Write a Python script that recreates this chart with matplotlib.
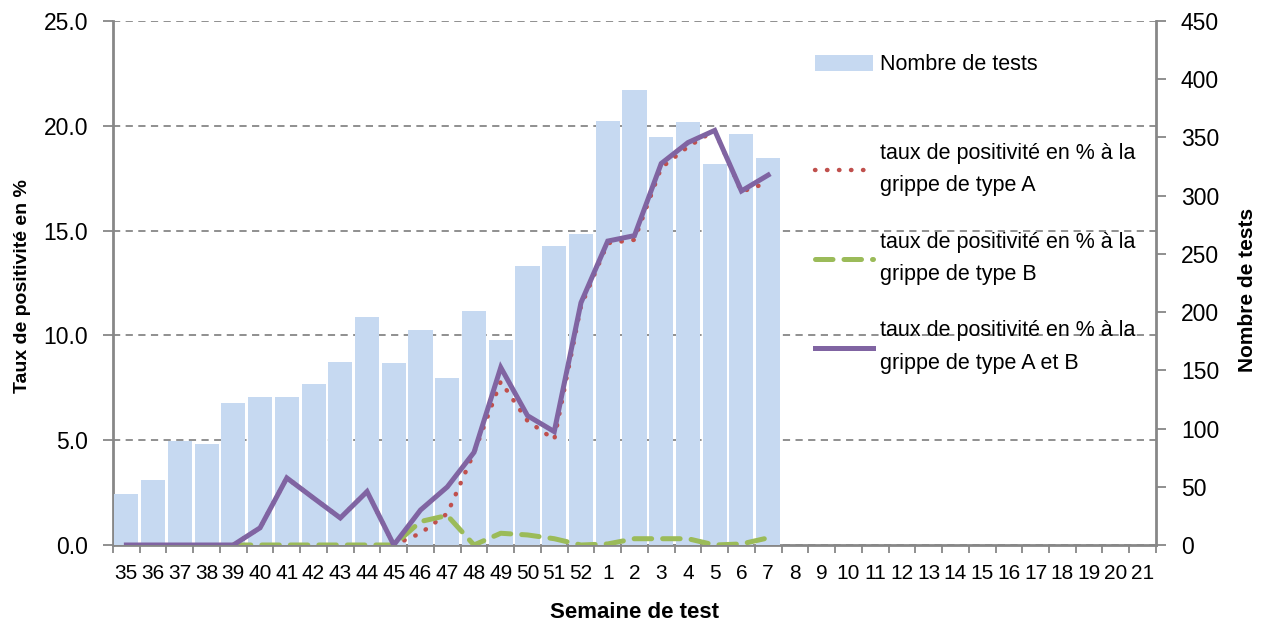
import matplotlib
matplotlib.use("Agg")
import matplotlib.pyplot as plt
import numpy as np
from matplotlib.patches import Patch
from matplotlib.lines import Line2D

plt.rcParams['font.family'] = ['Liberation Sans', 'DejaVu Sans']

weeks = [str(w) for w in list(range(35, 53)) + list(range(1, 22))]
tests = [44, 56, 89, 87, 122, 127, 127, 138, 157, 196, 156, 185, 143,
         201, 176, 240, 257, 267, 364, 391, 350, 363, 327, 353, 332]
rate_ab = [0, 0, 0, 0, 0, 0.82, 3.2, 2.24, 1.29, 2.55, 0, 1.67, 2.77,
           4.42, 8.47, 6.17, 5.41, 11.56, 14.5, 14.76, 18.2, 19.2, 19.78, 16.89, 17.65]
rate_a = [np.nan, np.nan, np.nan, np.nan, 0, 0.82, 3.2, 2.24, 1.29, 2.55, 0, 0.56, 1.5,
          4.4, 7.8, 5.92, 5.03, 11.4, 14.4, 14.56, 18.0, 19.0, 19.78, 16.85, 17.3]
rate_b = [np.nan, np.nan, np.nan, np.nan, 0, 0, 0, 0, 0, 0, 0, 1.12, 1.41,
          0, 0.56, 0.48, 0.3, 0, 0.05, 0.3, 0.3, 0.3, 0, 0.05, 0.34]

labels = ["Nombre de tests",
          "taux de positivité en % à la\ngrippe de type A",
          "taux de positivité en % à la\ngrippe de type B",
          "taux de positivité en % à la\ngrippe de type A et B"]

c_bar = "#C6D9F1"
c_a = "#C0504D"
c_b = "#9BBB59"
c_ab = "#8064A2"
c_axis = "#878787"
fs_y = 16.5
fs_x = 15
fs_leg = 15.5

fig = plt.figure(figsize=(12.61, 6.23), dpi=100)
ax = fig.add_axes([0.0896, 0.1252, 0.9167 - 0.0896, 0.9663 - 0.1252])
ax2 = ax.twinx()
ax3 = ax.twinx()
ax.set_zorder(0)
ax2.set_zorder(1)
ax3.set_zorder(2)
for a in (ax2, ax3):
    a.patch.set_visible(False)

n = len(weeks)
x_all = np.arange(n)
xb = np.arange(len(tests))

# grid on ax (bottom layer)
ax.set_xlim(-0.5, n - 0.5)
ax.set_ylim(0, 25)
ax.set_yticks(np.arange(0, 26, 5))
ax.set_yticklabels([f"{v:.1f}" for v in np.arange(0, 26, 5)], fontsize=fs_y)
ax.yaxis.grid(True, color=c_axis, linestyle=(0, (4, 3)), linewidth=1.3)
ax.set_axisbelow(True)
ax.set_xticks(x_all)
ax.set_xticklabels(weeks, fontsize=fs_x)
ax.set_xticks(np.arange(-0.5, n, 1), minor=True)
ax.tick_params(axis='x', which='major', length=0, pad=14)
ax.tick_params(axis='x', which='minor', length=6, color=c_axis, width=1.3)
ax.tick_params(axis='y', length=7, color=c_axis, width=1.3, pad=11)
for s in ['top', 'right']:
    ax.spines[s].set_visible(False)
for s in ['left', 'bottom']:
    ax.spines[s].set_color(c_axis)
    ax.spines[s].set_linewidth(2)
ax.set_ylabel("Taux de positivité en %", fontsize=14, fontweight='bold',
              va='center', ha='center')
ax.yaxis.set_label_coords((23 - 113) / 1043, (545 - 286) / 524)
ax.set_xlabel("Semaine de test", fontsize=16, fontweight='bold', va='center', ha='center')
ax.xaxis.set_label_coords(0.5, (545 - 612) / 524)

# bars on right axis
ax2.bar(xb, tests, width=0.9, color=c_bar, edgecolor='none')
ax2.set_ylim(0, 450)
ax2.set_xlim(-0.5, n - 0.5)
ax2.set_yticks(np.arange(0, 451, 50))
ax2.set_yticklabels([str(v) for v in range(0, 451, 50)], fontsize=fs_y)
ax2.tick_params(axis='y', length=7, color=c_axis, width=1.3, pad=11)
for s in ['top', 'left', 'bottom']:
    ax2.spines[s].set_visible(False)
ax2.spines['right'].set_color(c_axis)
ax2.spines['right'].set_linewidth(2)
ax2.set_ylabel("Nombre de tests", fontsize=15, fontweight='bold',
               va='center', ha='center')
ax2.yaxis.set_label_coords((1248 - 113) / 1043, (545 - 290) / 524)

# lines on top
ax3.set_ylim(0, 25)
ax3.set_xlim(-0.5, n - 0.5)
ax3.axis('off')
ax3.plot(xb, rate_a, color=c_a, linewidth=3.2, linestyle=(0, (0.1, 2.6)),
         dash_capstyle='round', solid_capstyle='round')
ax3.plot(xb, rate_b, color=c_b, linewidth=3.6, linestyle=(0, (3.5, 2.2)),
         dash_capstyle='round')
ax3.plot(xb, rate_ab, color=c_ab, linewidth=3.6, solid_joinstyle='miter')

h_bar = [Patch(facecolor=c_bar, edgecolor='none')]
h_lines = [Line2D([], [], color=c_a, linewidth=3.2, linestyle=(0, (0.1, 2.6)), dash_capstyle='round'),
           Line2D([], [], color=c_b, linewidth=3.6, linestyle=(0, (3.5, 2.2)), dash_capstyle='round'),
           Line2D([], [], color=c_ab, linewidth=3.6)]
leg_kw = dict(bbox_transform=fig.transFigure, frameon=False, fontsize=fs_leg,
              handlelength=2.7, handleheight=0.7, handletextpad=0.3,
              borderpad=0, borderaxespad=0)
leg1 = ax3.legend(h_bar, labels[:1], loc='center left',
                  bbox_to_anchor=(815 / 1261, 1 - 65 / 623), **leg_kw)
ax3.add_artist(leg1)
leg2 = ax3.legend(h_lines, labels[1:], loc='upper left',
                  bbox_to_anchor=(815 / 1261, 1 - 143 / 623), labelspacing=1.65, **leg_kw)
for t in leg2.get_texts():
    t.set_linespacing(1.7)

fig.savefig("out.png", dpi=100)
